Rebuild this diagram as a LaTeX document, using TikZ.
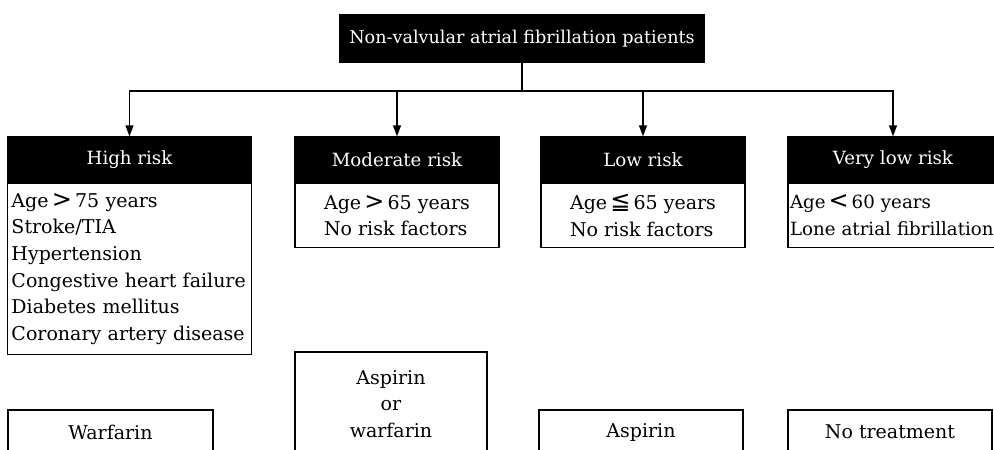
\documentclass[tikz,border=0pt]{standalone}
\usepackage{fontspec}
\setmainfont{DejaVu Serif}
\newfontfamily\symf{DejaVu Sans}
\newcommand{\relsym}[1]{\,{\symf\fontsize{24}{24}\selectfont #1}\,}
\usetikzlibrary{arrows.meta}
\begin{document}
\begin{tikzpicture}[x=1pt,y=-1pt,
  line width=1.4pt,
  txt/.style={font=\fontsize{19}{26.6}\selectfont},
  hdr/.style={draw=black, fill=black, text=white, font=\fontsize{18.2}{24}\selectfont, inner sep=0pt, minimum height=45pt},
  bodybox/.style={draw=black, fill=white, txt, inner sep=4pt, align=left, anchor=north},
  treat/.style={draw=black, fill=white, txt, inner sep=0pt, align=center},
  arr/.style={-{Triangle[length=11pt,width=8pt]}, line width=1.4pt}
]
\useasboundingbox (0,0) rectangle (994,450);
\clip (0,0) rectangle (994,450);
\fill[white] (0,0) rectangle (994,450);

% title
\node[hdr, minimum width=364pt, minimum height=47pt, font=\fontsize{17.6}{22}\selectfont] (t) at (522,38.5) {Non-valvular atrial fibrillation patients};
\coordinate (j) at (522,91);

% risk headers
\node[hdr, minimum width=243pt] (h1) at (129.5,159.5) {High risk};
\node[hdr, minimum width=204pt] (h2) at (397,159.5) {Moderate risk};
\node[hdr, minimum width=204pt] (h3) at (643,159.5) {Low risk};
\node[hdr, minimum width=210pt] (h4) at (893,159.5) {Very low risk};

% risk bodies
\node[bodybox, minimum width=243pt, minimum height=171pt, text width=236pt] (b1) at (h1.south)
  {Age\relsym{>}75 years\\Stroke/TIA\\Hypertension\\Congestive heart failure\\Diabetes mellitus\\Coronary artery disease};
\node[bodybox, minimum width=204pt, minimum height=64pt] (b2) at (h2.south)
  {Age\relsym{>}65 years\\No risk factors};
\node[bodybox, minimum width=204pt, minimum height=64pt] (b3) at (h3.south)
  {Age\relsym{≦}65 years\\No risk factors};
\node[bodybox, minimum width=204pt, minimum height=64pt, text width=240pt, inner sep=2pt, anchor=north west, font=\fontsize{18.2}{26.6}\selectfont] (b4) at (h4.south west)
  {Age\relsym{<}60 years\\Lone atrial fibrillation};

% treatments
\node[treat, minimum width=205pt, minimum height=44pt] (w1) at (110.5,432) {Warfarin};
\node[treat, minimum width=192pt, minimum height=104pt] (w2) at (391,404) {Aspirin\\or\\warfarin};
\node[treat, minimum width=204pt, minimum height=44pt] (w3) at (641,432) {Aspirin};
\node[treat, minimum width=204pt, minimum height=44pt] (w4) at (890,432) {No treatment};

% connectors
\draw (t.south) -- (j);
\draw[arr] (j) -| (h1.north);
\draw[arr] (j) -| (h2.north);
\draw[arr] (j) -| (h3.north);
\draw[arr] (j) -| (h4.north);
\end{tikzpicture}
\end{document}
